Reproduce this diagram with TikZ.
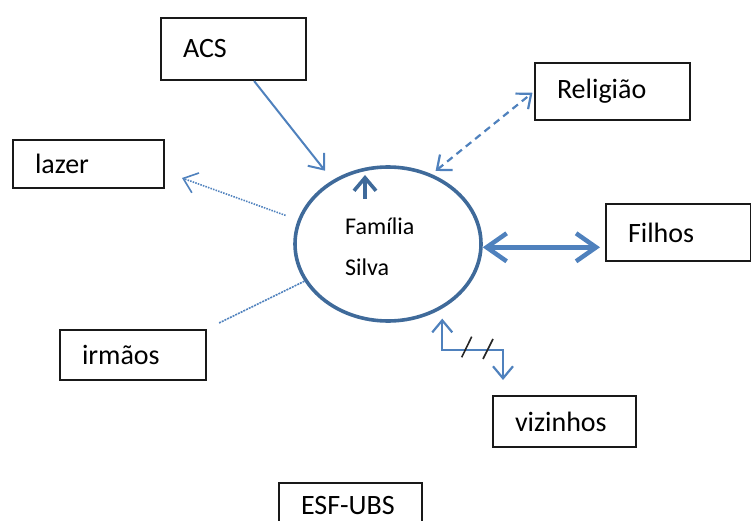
\documentclass[tikz,border=0pt]{standalone}
\usepackage{fontspec}
\setmainfont{Carlito}
\usetikzlibrary{arrows.meta,calc,shapes.geometric}
\definecolor{connc}{HTML}{4F81BD}
\definecolor{ringc}{HTML}{3F6A9A}
\begin{document}
\begin{tikzpicture}[x=1pt,y=-1pt,
  box/.style={draw=black!90, line width=2pt, anchor=north west, inner xsep=22pt, inner ysep=0pt,
    align=left, font=\fontsize{28}{32}\selectfont},
  conn/.style={draw=connc, line width=2pt},
  barbhead/.style={-{Straight Barb[length=13pt,width=21pt]}},
  barbboth/.style={{Straight Barb[length=12pt,width=20pt]}-{Straight Barb[length=12pt,width=20pt]}},
]
\useasboundingbox (0,0) rectangle (751,521);
\clip (0,0) rectangle (751,521);

% boxes
\node[box, text width=101pt, minimum height=62pt] (acs) at (160,17) {ACS};
\node[box, text width=107pt, minimum height=48pt] (lazer) at (12,139) {lazer};
\node[box, text width=111pt, minimum height=57pt] (religiao) at (534,62) {Religião};
\node[box, text width=101pt, minimum height=57pt] (filhos) at (605,203) {Filhos};
\node[box, text width=102pt, minimum height=50pt] (irmaos) at (59,329) {irmãos};
\node[box, text width=99pt, minimum height=51pt] (vizinhos) at (492,395) {vizinhos};
\node[box, text width=99pt, minimum height=46pt] (esf) at (278,482) {ESF-UBS};
\draw[draw=black!90, line width=2pt] (esf.south west) -- ++(0,20) (esf.south east) -- ++(0,20);

% family ellipse
\node[ellipse, draw=ringc, line width=3.6pt, minimum width=186pt, minimum height=154pt, inner sep=0pt] (fam) at (388,244) {};
\node[anchor=west, align=left, inner sep=0pt, font=\fontsize{24}{41}\selectfont] (famtxt) at (345,247) {Família\\Silva};

% free ends
\coordinate (lzend) at ($(lazer.east)+(17,14)$);
\coordinate (irend) at ($(irmaos.north east)+(12,-6)$);
\coordinate (zt) at ($(fam.-50.8)+(0,10)$);
\coordinate (zb) at ($(vizinhos.north west)+(11,-15)$);
\coordinate (zm) at ($(zb)+(0,-30)$);
\coordinate (inA) at (365,199);
\coordinate (inB) at (365,175);

% connectors
\draw[conn, barbhead, shorten >=12pt] ($(acs.south west)!0.64!(acs.south east)$) -- (fam.131.6);
\draw[conn, line width=1.6pt, dash pattern=on 1.5pt off 1.2pt, barbhead, shorten <=13pt] (fam.165) -- (lzend);
\draw[conn, line width=2.2pt, dash pattern=on 7pt off 5pt, barbboth, shorten <=5pt, shorten >=2pt] (fam.58.7) -- (religiao.west);
\draw[draw=connc, line width=4.5pt, {Straight Barb[length=20pt,width=28pt]}-{Straight Barb[length=20pt,width=28pt]}, shorten >=5pt] (fam.-2) -- (fam.-2 -| filhos.west);
\draw[conn, line width=1.6pt, dash pattern=on 2pt off 1pt] (fam.204.6) -- (irend);
\draw[conn, line width=2.2pt, barbboth] (zt) |- (zm) -- (zb);
\draw[black!85, line width=1.6pt] (461.7,357.3) -- (471.7,336.7);
\draw[black!85, line width=1.6pt] (483,359) -- (493,339);
\draw[draw=ringc, line width=3.6pt, -{Straight Barb[length=13pt,width=22pt]}] (inA) -- (inB);
\end{tikzpicture}
\end{document}
